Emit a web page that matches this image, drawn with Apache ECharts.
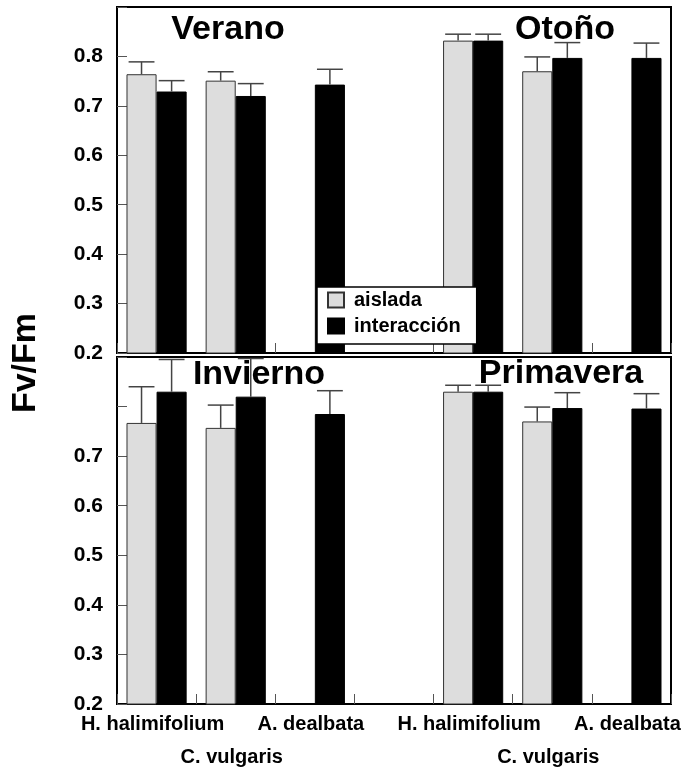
<!DOCTYPE html>
<html>
<head>
<meta charset="utf-8">
<script src="https://cdn.jsdelivr.net/npm/echarts@6/dist/echarts.min.js"></script>
<style>
  html, body { margin: 0; padding: 0; background: #fff; }
  #chart { width: 685px; height: 769px; }
</style>
</head>
<body>
<div id="chart"></div>
<script>
// Species along the x axis: two seasons per panel, separated by an empty slot
const categories = ['H. halimifolium', 'C. vulgaris', 'A. dealbata', '', 'H. halimifolium', 'C. vulgaris', 'A. dealbata'];
const yTicks = [0.2, 0.3, 0.4, 0.5, 0.6, 0.7, 0.8, 0.9];

// Fv/Fm means and standard errors (H. halimifolium, C. vulgaris, A. dealbata)
const veranoAislada      = [0.764, 0.751, null];
const veranoAisladaErr   = [0.025, 0.018, null];
const veranoInter        = [0.729, 0.720, 0.743];
const veranoInterErr     = [0.022, 0.025, 0.031];

const otonoAislada       = [0.832, 0.770, null];
const otonoAisladaErr    = [0.013, 0.029, null];
const otonoInter         = [0.832, 0.797, 0.797];
const otonoInterErr      = [0.013, 0.031, 0.030];

const inviernoAislada    = [0.767, 0.757, null];
const inviernoAisladaErr = [0.073, 0.046, null];
const inviernoInter      = [0.830, 0.820, 0.785];
const inviernoInterErr   = [0.065, 0.077, 0.047];

const primaveraAislada    = [0.830, 0.770, null];
const primaveraAisladaErr = [0.013, 0.029, null];
const primaveraInter      = [0.830, 0.797, 0.796];
const primaveraInterErr   = [0.013, 0.031, 0.030];

const FONT = '"Liberation Sans", Arial, Helvetica, sans-serif';
const GAP = 0.24; // bar category gap

function join(a, b) { return a.concat([null], b); }
function barData(arr) { return arr.map(v => v == null ? '-' : v); }
function errData(vals, errs) {
  const out = [];
  vals.forEach((v, i) => { if (v != null && errs[i] != null) out.push([i, v, errs[i]]); });
  return out;
}

// Upward error bar with cap, centred on the left (-1) or right (+1) bar of a pair
function errRender(side) {
  return function (params, api) {
    const idx = api.value(0), v = api.value(1), e = api.value(2);
    const base = api.coord([idx, v]);
    const top = api.coord([idx, v + e]);
    const band = api.size([1, 0])[0];
    const bw = band * (1 - GAP) / 2;
    const cx = base[0] + side * bw / 2;
    const hw = bw * 0.43;
    const st = { stroke: '#444', lineWidth: 1.5 };
    return {
      type: 'group',
      children: [
        { type: 'line', shape: { x1: cx, y1: base[1], x2: cx, y2: top[1] }, style: st },
        { type: 'line', shape: { x1: cx - hw, y1: top[1], x2: cx + hw, y2: top[1] }, style: st }
      ]
    };
  };
}

const gridBorder = { show: true, borderColor: '#000', borderWidth: 2, backgroundColor: 'transparent', outerBoundsMode: 'none', containLabel: false };

function xAxisCfg(gridIndex, showLabels) {
  return {
    type: 'category', gridIndex, data: categories,
    axisLine: { show: true, lineStyle: { color: '#000', width: 2 } },
    axisTick: { show: true, inside: true, length: 10, lineStyle: { color: '#555', width: 1 } },
    splitLine: { show: false },
    axisLabel: showLabels ? {
      show: true, interval: 0, margin: 10, hideOverlap: false,
      formatter: (val, i) => (i === 1 || i === 5) ? '{b|' + val + '}' : '{a|' + val + '}',
      rich: {
        a: { fontFamily: FONT, fontWeight: 'bold', fontSize: 20, color: '#000', lineHeight: 20, padding: [0, 8, 0, 0] },
        b: { fontFamily: FONT, fontWeight: 'bold', fontSize: 20, color: '#000', lineHeight: 20, padding: [66, 8, 0, 0] }
      }
    } : { show: false }
  };
}

function yAxisCfg(gridIndex, maxLabel) {
  return {
    type: 'value', gridIndex, min: yTicks[0], max: yTicks[yTicks.length - 1], interval: 0.1,
    axisLine: { show: true, lineStyle: { color: '#000', width: 2 } },
    axisTick: { show: true, inside: true, length: 10, lineStyle: { color: '#555', width: 1 } },
    splitLine: { show: false },
    axisLabel: {
      margin: 14, fontFamily: FONT, fontWeight: 'bold', fontSize: 21, color: '#000',
      formatter: v => (v > maxLabel + 0.01) ? '' : v.toFixed(1)
    }
  };
}

const grayStyle = { color: '#dddddd', borderColor: '#333', borderWidth: 1 };
const blackStyle = { color: '#000000', borderColor: '#000', borderWidth: 1 };

function barSeries(name, data, gi, style) {
  return {
    name, type: 'bar', xAxisIndex: gi, yAxisIndex: gi, data: barData(data),
    barGap: '0%', barCategoryGap: (GAP * 100) + '%', itemStyle: style, z: 2,
    emphasis: { disabled: true }
  };
}
function errSeries(name, data, gi, side) {
  return {
    name, type: 'custom', xAxisIndex: gi, yAxisIndex: gi, data,
    encode: { x: 0, y: 1 }, renderItem: errRender(side), z: 3, silent: true
  };
}

const topAislada = join(veranoAislada, otonoAislada);
const topAisladaErr = join(veranoAisladaErr, otonoAisladaErr);
const topInter = join(veranoInter, otonoInter);
const topInterErr = join(veranoInterErr, otonoInterErr);
const botAislada = join(inviernoAislada, primaveraAislada);
const botAisladaErr = join(inviernoAisladaErr, primaveraAisladaErr);
const botInter = join(inviernoInter, primaveraInter);
const botInterErr = join(inviernoInterErr, primaveraInterErr);

const titleStyle = { fontFamily: FONT, fontWeight: 'bold', fontSize: 34, fill: '#000', align: 'center', verticalAlign: 'middle' };
function titleText(text, x, y) {
  return { type: 'text', x, y, z: 1, style: Object.assign({ text }, titleStyle) };
}

const chart = echarts.init(document.getElementById('chart'), null, { renderer: 'canvas' });
chart.setOption({
  animation: false,
  backgroundColor: '#fff',
  grid: [
    Object.assign({ left: 117, right: 14, top: 7, height: 346 }, gridBorder),
    Object.assign({ left: 117, right: 14, top: 357, height: 347 }, gridBorder)
  ],
  xAxis: [xAxisCfg(0, false), xAxisCfg(1, true)],
  yAxis: [yAxisCfg(0, 0.8), yAxisCfg(1, 0.7)],
  legend: {
    data: ['aislada', 'interacción'],
    orient: 'vertical', left: 317, top: 287,
    padding: [3, 16, 8, 10], itemGap: 6, itemWidth: 16, itemHeight: 15,
    backgroundColor: '#fff', borderColor: '#000', borderWidth: 1.5, borderRadius: 0,
    icon: 'rect', selectedMode: false,
    textStyle: { fontFamily: FONT, fontWeight: 'bold', fontSize: 20, color: '#000', padding: [0, 0, 0, 5] }
  },
  graphic: [
    titleText('Verano', 228, 30),
    titleText('Otoño', 565, 30),
    titleText('Invierno', 259, 375),
    titleText('Primavera', 561, 374),
    {
      type: 'text', x: 26, y: 363, rotation: Math.PI / 2,
      style: { text: 'Fv/Fm', fontFamily: FONT, fontWeight: 'bold', fontSize: 34, fill: '#000', align: 'center', verticalAlign: 'middle' }
    }
  ],
  series: [
    barSeries('aislada', topAislada, 0, grayStyle),
    barSeries('interacción', topInter, 0, blackStyle),
    errSeries('err-a-top', errData(topAislada, topAisladaErr), 0, -1),
    errSeries('err-i-top', errData(topInter, topInterErr), 0, 1),
    barSeries('aislada', botAislada, 1, grayStyle),
    barSeries('interacción', botInter, 1, blackStyle),
    errSeries('err-a-bot', errData(botAislada, botAisladaErr), 1, -1),
    errSeries('err-i-bot', errData(botInter, botInterErr), 1, 1)
  ]
});
</script>
</body>
</html>
